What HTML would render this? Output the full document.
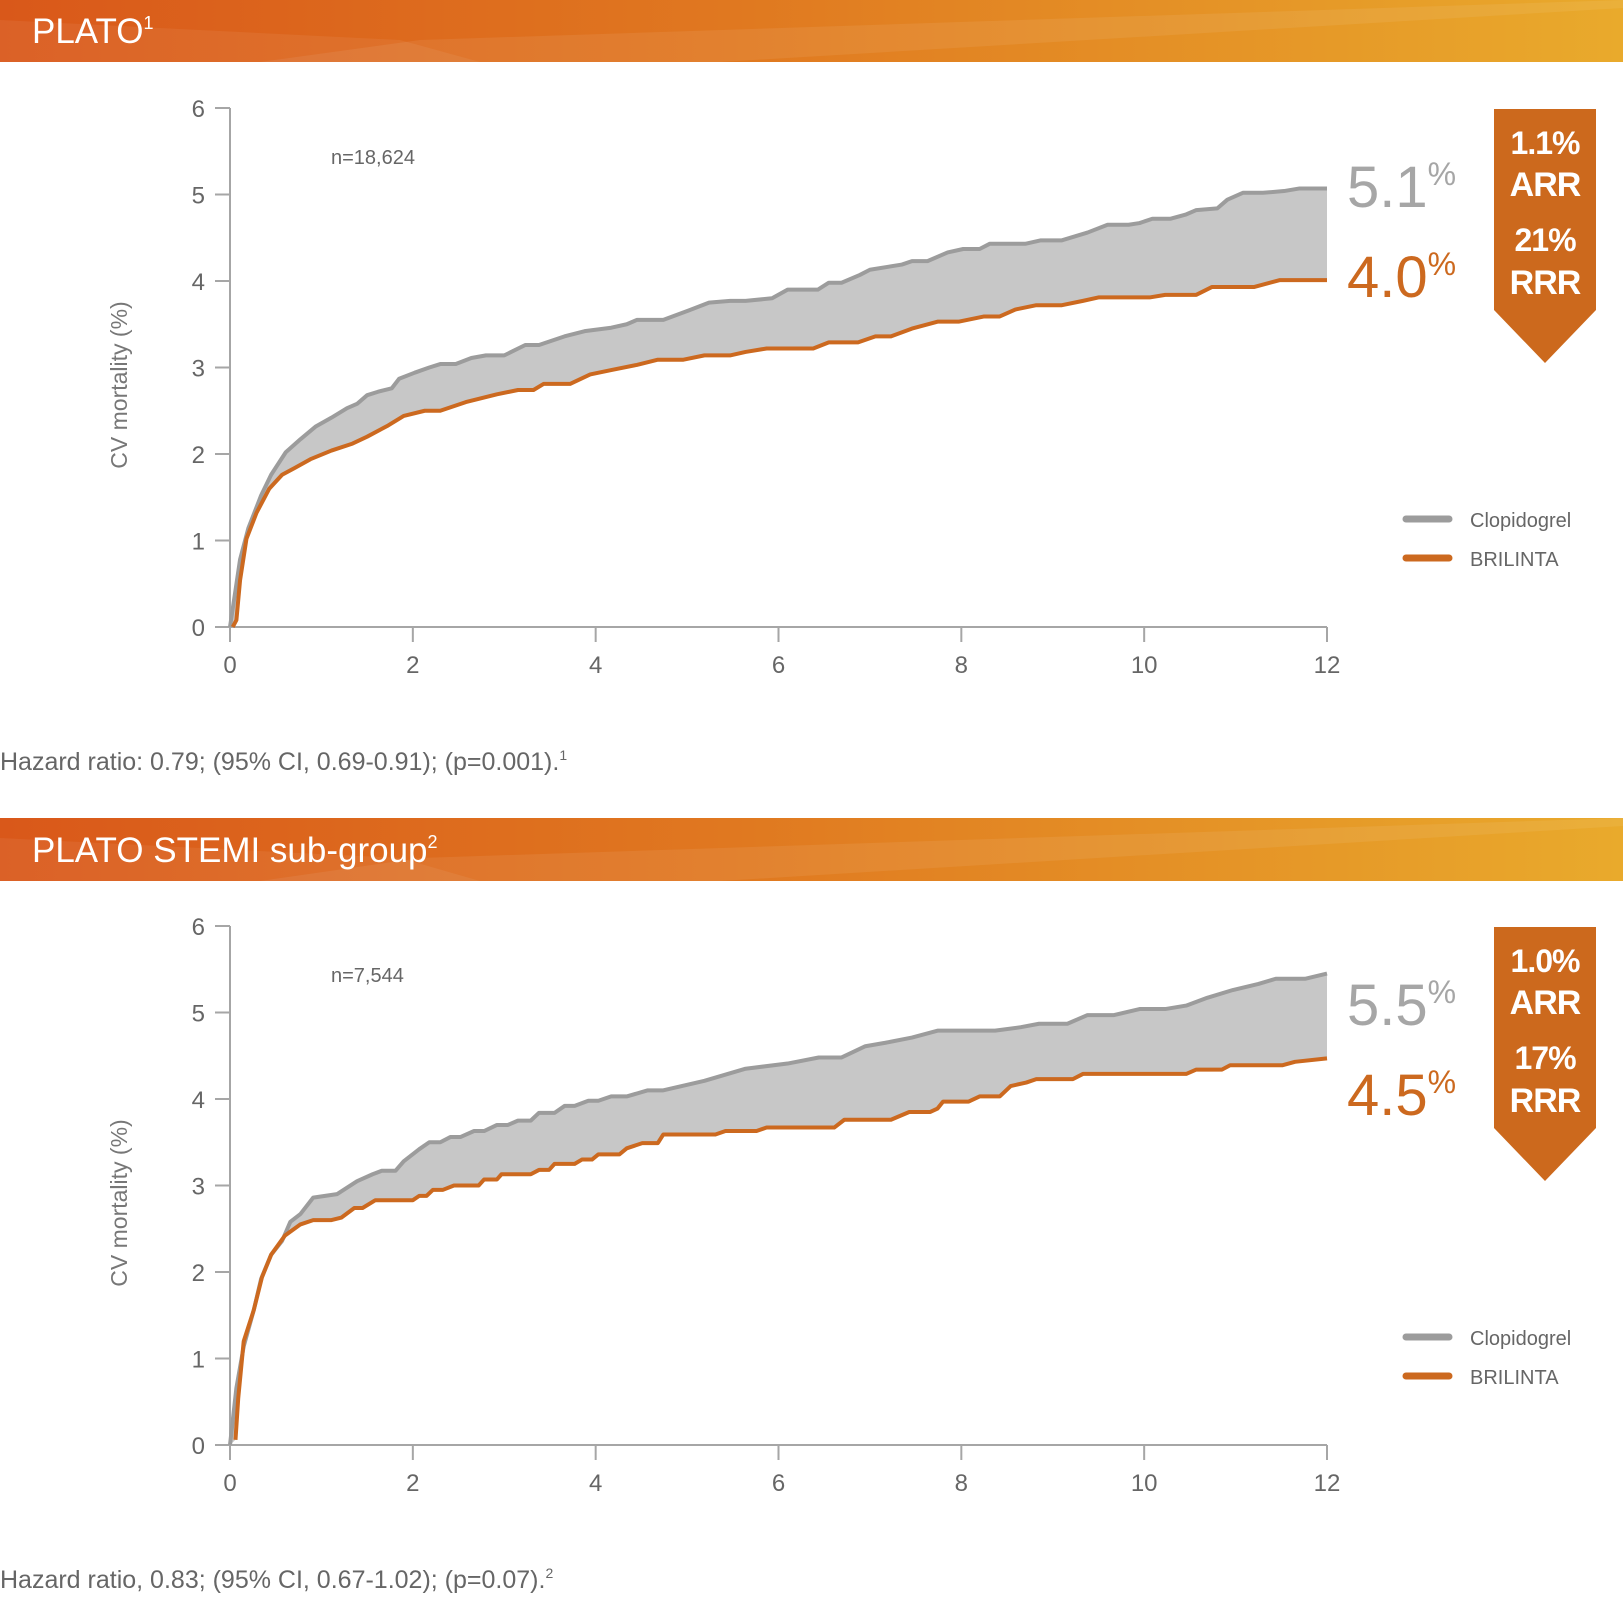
<!DOCTYPE html>
<html><head><meta charset="utf-8"><style>
html,body{margin:0;padding:0;background:#fff;}
body{width:1623px;height:1600px;overflow:hidden;font-family:"Liberation Sans",sans-serif;}
</style></head><body>
<svg id="root" width="1623" height="1600" viewBox="0 0 1623 1600" xmlns="http://www.w3.org/2000/svg">
<defs>
<linearGradient id="hg" x1="0" x2="1" y1="0" y2="0">
<stop offset="0" stop-color="#d9581a"/><stop offset="0.45" stop-color="#e07820"/><stop offset="1" stop-color="#e9aa2c"/>
</linearGradient>
</defs>
<g>
<rect x="0" y="0" width="1623" height="62" fill="url(#hg)"/>
<polygon points="260,62 420,40 1623,0 1623,8 720,62" fill="#ffffff" opacity="0.07"/>
<polygon points="0,20 400,40 480,62 0,62" fill="#ffffff" opacity="0.06"/>
<text x="32" y="43" font-size="35" fill="#fff">PLATO<tspan font-size="18" dy="-14">1</tspan></text>
</g>
<g>
<rect x="0" y="818" width="1623" height="63" fill="url(#hg)"/>
<polygon points="260,881 420,858 1623,818 1623,826 720,881" fill="#ffffff" opacity="0.07"/>
<polygon points="0,838 400,858 480,881 0,881" fill="#ffffff" opacity="0.06"/>
<text x="32" y="862" font-size="35" fill="#fff">PLATO STEMI sub-group<tspan font-size="18" dy="-14">2</tspan></text>
</g>
<text x="0" y="770" font-size="25" fill="#666">Hazard ratio: 0.79; (95% CI, 0.69-0.91); (p=0.001).<tspan font-size="14" dy="-10">1</tspan></text>
<text x="0" y="1588" font-size="25" fill="#666">Hazard ratio, 0.83; (95% CI, 0.67-1.02); (p=0.07).<tspan font-size="14" dy="-10">2</tspan></text>
<g id="c1"></g>
<g id="c2"></g>
</svg>
<script>
const xTicks = [0,2,4,6,8,10,12];
const yTicks = [0,1,2,3,4,5,6];
const c1Months = {clop:[0,0.11,0.2,0.34,0.45,0.61,0.77,0.94,1.11,1.28,1.39,1.5,1.62,1.77,1.85,2.02,2.18,2.3,2.47,2.64,2.8,3.0,3.23,3.38,3.66,3.88,4.17,4.34,4.45,4.74,5.02,5.24,5.47,5.64,5.93,6.1,6.43,6.55,6.69,6.89,7.0,7.35,7.46,7.63,7.85,8.02,8.2,8.31,8.7,8.87,9.1,9.38,9.6,9.83,9.95,10.09,10.29,10.46,10.57,10.8,10.91,11.08,11.3,11.53,11.7,12]};
const c1Clop = [0,0.78,1.14,1.52,1.76,2.02,2.17,2.32,2.42,2.53,2.58,2.68,2.72,2.76,2.87,2.94,3.0,3.04,3.04,3.11,3.14,3.14,3.26,3.26,3.36,3.42,3.46,3.5,3.55,3.55,3.66,3.75,3.77,3.77,3.8,3.9,3.9,3.98,3.98,4.07,4.13,4.19,4.23,4.23,4.33,4.37,4.37,4.43,4.43,4.47,4.47,4.56,4.65,4.65,4.67,4.72,4.72,4.77,4.82,4.84,4.94,5.02,5.02,5.04,5.07,5.07];
const c1BrilMonths = [0.03,0.07,0.11,0.18,0.29,0.43,0.57,0.71,0.88,1.11,1.34,1.5,1.73,1.9,2.13,2.3,2.58,2.92,3.15,3.32,3.43,3.72,3.94,4.17,4.45,4.68,4.96,5.19,5.47,5.64,5.87,6.38,6.55,6.87,7.06,7.23,7.46,7.74,7.97,8.25,8.42,8.59,8.82,9.1,9.33,9.5,10.06,10.23,10.57,10.74,11.2,11.48,12];
const c1Bril = [0,0.08,0.54,1.02,1.32,1.6,1.76,1.84,1.94,2.04,2.12,2.2,2.33,2.44,2.5,2.5,2.6,2.69,2.74,2.74,2.81,2.81,2.92,2.97,3.03,3.09,3.09,3.14,3.14,3.18,3.22,3.22,3.29,3.29,3.36,3.36,3.45,3.53,3.53,3.59,3.59,3.67,3.72,3.72,3.77,3.81,3.81,3.84,3.84,3.93,3.93,4.01,4.01];
const c2ClopMonths = [0,0.07,0.15,0.26,0.34,0.45,0.57,0.66,0.77,0.91,1.17,1.39,1.56,1.66,1.81,1.9,2.07,2.18,2.3,2.41,2.52,2.67,2.78,2.92,3.04,3.15,3.29,3.38,3.55,3.66,3.77,3.92,4.03,4.17,4.34,4.57,4.74,5.19,5.64,6.1,6.44,6.69,6.95,7.17,7.46,7.74,8.37,8.65,8.85,9.16,9.38,9.67,9.95,10.23,10.46,10.69,10.97,11.25,11.44,11.76,12];
const c2Clop = [0,0.66,1.14,1.56,1.92,2.2,2.36,2.58,2.67,2.86,2.9,3.05,3.13,3.17,3.17,3.28,3.42,3.5,3.5,3.56,3.56,3.63,3.63,3.7,3.7,3.75,3.75,3.84,3.84,3.92,3.92,3.98,3.98,4.03,4.03,4.1,4.1,4.21,4.35,4.41,4.48,4.48,4.61,4.65,4.71,4.79,4.79,4.83,4.87,4.87,4.97,4.97,5.04,5.04,5.08,5.17,5.26,5.33,5.39,5.39,5.45];
const c2BrilMonths = [0.06,0.09,0.15,0.26,0.35,0.45,0.6,0.77,0.91,1.11,1.22,1.36,1.45,1.59,2.0,2.07,2.15,2.22,2.33,2.45,2.72,2.78,2.92,2.97,3.29,3.38,3.49,3.55,3.77,3.85,3.96,4.03,4.26,4.34,4.51,4.68,4.74,5.31,5.42,5.76,5.87,6.61,6.72,7.23,7.43,7.66,7.74,7.8,8.08,8.2,8.42,8.54,8.71,8.82,9.22,9.33,10.46,10.57,10.85,10.94,11.51,11.65,12];
const c2Bril = [0.06,0.54,1.2,1.56,1.94,2.2,2.42,2.55,2.6,2.6,2.63,2.74,2.74,2.83,2.83,2.88,2.88,2.95,2.95,3.0,3.0,3.07,3.07,3.13,3.13,3.18,3.18,3.25,3.25,3.3,3.3,3.36,3.36,3.43,3.49,3.49,3.59,3.59,3.63,3.63,3.67,3.67,3.76,3.76,3.85,3.85,3.89,3.97,3.97,4.03,4.03,4.15,4.19,4.23,4.23,4.29,4.29,4.34,4.34,4.39,4.39,4.43,4.47];
const nLabels = ["n=18,624","n=7,544"];
const clopEnd = ["5.1","5.5"];
const brilEnd = ["4.0","4.5"];
const arrLabels = ["1.1%","1.0%"];
const rrrLabels = ["21%","17%"];

const NS="http://www.w3.org/2000/svg";
function mk(parent,tag,attrs,text){const e=document.createElementNS(NS,tag);for(const k in attrs)e.setAttribute(k,attrs[k]);if(text!==undefined)e.textContent=text;parent.appendChild(e);return e;}

function draw(g,off,cm,cv,bm,bv,i){
  const X0=230,X1=1327,Y0=627+off,Y6=108+off;
  const sx=m=>X0+(X1-X0)*m/12, sy=v=>Y0+(Y6-Y0)*v/6;
  // fill
  let pts=cm.map((m,k)=>sx(m)+","+sy(cv[k]));
  for(let k=bm.length-1;k>=0;k--)pts.push(sx(bm[k])+","+sy(bv[k]));
  let e=mk(g,"polygon",{points:pts.join(" "),fill:"#c7c7c7"});
  
  
  // axes
  e=mk(g,"path",{d:`M${X0},${Y6}V${Y0}H${X1}`,stroke:"#a6a6a6","stroke-width":2,fill:"none"});
  
  
  yTicks.forEach(t=>{
    const y=sy(t);
    mk(g,"line",{x1:X0-15,x2:X0,y1:y,y2:y,stroke:"#a6a6a6","stroke-width":2});
    e=mk(g,"text",{x:205,y:y+9,"font-size":24,fill:"#666","text-anchor":"end"},String(t));
    
    
  });
  xTicks.forEach(t=>{
    const x=sx(t);
    mk(g,"line",{x1:x,x2:x,y1:Y0,y2:Y0+15,stroke:"#a6a6a6","stroke-width":2});
    e=mk(g,"text",{x:x,y:Y0+46,"font-size":24,fill:"#666","text-anchor":"middle"},String(t));
    
    
  });
  e=mk(g,"text",{x:0,y:0,"font-size":23,fill:"#777","text-anchor":"middle",transform:`translate(127,${385+off}) rotate(-90)`},"CV mortality (%)");
  
  
  e=mk(g,"text",{x:331,y:164+off,"font-size":20,fill:"#666"},nLabels[i]);
  
  
  // lines
  e=mk(g,"polyline",{points:cm.map((m,k)=>sx(m)+","+sy(cv[k])).join(" "),fill:"none",stroke:"#9c9c9c","stroke-width":4,"stroke-linejoin":"round"});
  
  
  e=mk(g,"polyline",{points:bm.map((m,k)=>sx(m)+","+sy(bv[k])).join(" "),fill:"none",stroke:"#cc691f","stroke-width":4,"stroke-linejoin":"round"});
  
  
  // end values
  e=mk(g,"text",{x:1347,y:207+off,"font-size":58,fill:"#a6a6a6"},clopEnd[i]);
  mk(e,"tspan",{"font-size":32,dy:-22},"%");
  
  
  e=mk(g,"text",{x:1347,y:297+off,"font-size":58,fill:"#cc691f"},brilEnd[i]);
  mk(e,"tspan",{"font-size":32,dy:-22},"%");
  
  
  // banner
  const bg=mk(g,"g",{});
  
  
  mk(bg,"polygon",{points:`1494,${109+off} 1596,${109+off} 1596,${310+off} 1545,${363+off} 1494,${310+off}`,fill:"#cc691d"});
  const lab=[[arrLabels[i],154,32],["ARR",196,34],[rrrLabels[i],251,32],["RRR",294,34]];
  lab.forEach(l=>{mk(bg,"text",{x:1545,y:l[1]+off,"font-size":l[2],"font-weight":"bold",fill:"#fff","text-anchor":"middle","letter-spacing":"-1"},l[0]);});
  // legend
  const lg=mk(g,"g",{});
  
  
  mk(lg,"line",{x1:1406,x2:1449,y1:519+off,y2:519+off,stroke:"#9c9c9c","stroke-width":7,"stroke-linecap":"round"});
  mk(lg,"text",{x:1470,y:527+off,"font-size":20,fill:"#666"},"Clopidogrel");
  mk(lg,"line",{x1:1406,x2:1449,y1:558+off,y2:558+off,stroke:"#cc691f","stroke-width":7,"stroke-linecap":"round"});
  mk(lg,"text",{x:1470,y:566+off,"font-size":20,fill:"#666"},"BRILINTA");
}
draw(document.getElementById('c1'),0,c1Months.clop,c1Clop,c1BrilMonths,c1Bril,0);
draw(document.getElementById('c2'),818,c2ClopMonths,c2Clop,c2BrilMonths,c2Bril,1);
</script>
</body></html>
